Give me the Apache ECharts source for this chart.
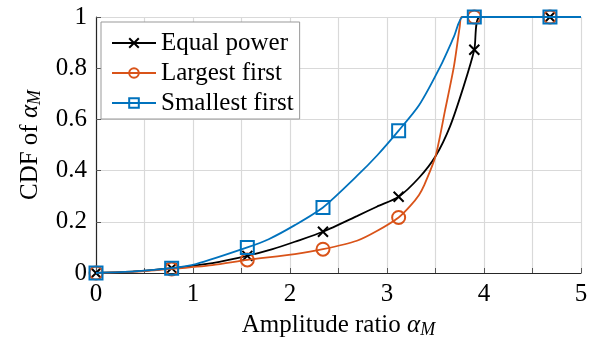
<!DOCTYPE html>
<html><head><meta charset="utf-8">
<script src="https://cdn.jsdelivr.net/npm/echarts@6/dist/echarts.min.js"></script>
<style>html,body{margin:0;padding:0;background:#fff}#c{width:599px;height:344px}</style>
</head><body><div id="c"></div>
<script>
const seriesNames = ['Equal power', 'Largest first', 'Smallest first'];
const markerX = [0, 0.78, 1.56, 2.34, 3.12, 3.90, 4.68];
const eqX = [0, 0.4, 0.78, 1.2, 1.56, 1.82, 2.05, 2.34, 2.69, 2.9, 3.12, 3.33, 3.5, 3.65, 3.79, 3.9, 3.96, 4.68, 5];
const eqY = [0, 0.006, 0.019, 0.039, 0.067, 0.093, 0.122, 0.161, 0.222, 0.26, 0.298, 0.372, 0.456, 0.573, 0.729, 0.872, 1.0, 1.0, 1.0];
const lfX = [0, 0.4, 0.78, 1.2, 1.56, 2.05, 2.34, 2.69, 2.9, 3.12, 3.24, 3.33, 3.38, 3.5, 3.6, 3.69, 3.75, 3.77, 3.9, 4.68, 5];
const lfY = [0, 0.005, 0.016, 0.031, 0.051, 0.074, 0.093, 0.126, 0.165, 0.217, 0.262, 0.305, 0.34, 0.456, 0.638, 0.807, 0.962, 1.0, 1.0, 1.0, 1.0];
const sfX = [0, 0.4, 0.78, 1.03, 1.56, 1.78, 2.05, 2.34, 2.69, 2.9, 3.12, 3.33, 3.55, 3.69, 3.78, 3.9, 4.68, 5];
const sfY = [0, 0.006, 0.019, 0.035, 0.1, 0.132, 0.187, 0.256, 0.379, 0.46, 0.556, 0.655, 0.807, 0.923, 1.0, 1.0, 1.0, 1.0];
const yTicks = [0, 0.2, 0.4, 0.6, 0.8, 1];
const xTickLabels = [0, 1, 2, 3, 4, 5];

const FONT = 'Liberation Serif';
const FS = 25;
const crossPath = 'path://M0,0L10,10M10,0L0,10';

function build(xs, ys) {
  return xs.map((x, i) => {
    const isM = markerX.some(m => Math.abs(m - x) < 1e-6);
    return isM ? { value: [x, ys[i]] } : { value: [x, ys[i]], symbol: 'none' };
  });
}

const colors = ['#000000', '#D95319', '#0072BD'];
const syms = [crossPath, 'circle', 'rect'];
const symSizes = [10, 13, 13];
const datas = [build(eqX, eqY), build(lfX, lfY), build(sfX, sfY)];
const richName = {
  i: { fontFamily: FONT, fontStyle: 'italic', fontSize: FS, color: '#000' },
  s: { fontFamily: FONT, fontStyle: 'italic', fontSize: 18, color: '#000', padding: [10, 0, 0, 0] }
};

const chart = echarts.init(document.getElementById('c'), null, { renderer: 'canvas' });
chart.setOption({
  animation: false,
  backgroundColor: '#fff',
  grid: { left: 96, right: 18, top: 17, bottom: 70, containLabel: false },
  legend: {
    data: seriesNames,
    orient: 'vertical',
    left: 101, top: 22,
    backgroundColor: '#fff',
    borderColor: '#999',
    borderWidth: 1,
    borderRadius: 0,
    padding: [8, 6, 3, 10],
    itemWidth: 44, itemHeight: 12, itemGap: 4,
    textStyle: { fontFamily: FONT, fontSize: FS, color: '#000', lineHeight: 26 }
  },
  xAxis: {
    type: 'value', min: 0, max: 5, interval: 0.5,
    name: 'Amplitude ratio {i|α}{s|M}',
    nameLocation: 'middle', nameGap: 38,
    nameTextStyle: { fontFamily: FONT, fontSize: FS, color: '#000', rich: richName },
    axisLine: { show: true, lineStyle: { color: '#262626', width: 1.2 } },
    axisTick: { show: true, inside: true, length: 5, lineStyle: { color: '#555' } },
    axisLabel: { fontFamily: FONT, fontSize: FS, color: '#000', margin: 9,
      formatter: v => (xTickLabels.indexOf(v) >= 0 ? String(v) : '') },
    splitLine: { show: true, lineStyle: { color: '#d9d9d9', width: 1.2 } }
  },
  yAxis: {
    type: 'value', min: 0, max: 1, interval: 0.2,
    name: 'CDF of {i|α}{s|M}',
    nameLocation: 'middle', nameGap: 52, nameRotate: 90,
    nameTextStyle: { fontFamily: FONT, fontSize: FS, color: '#000', rich: richName },
    axisLine: { show: true, lineStyle: { color: '#262626', width: 1.2 } },
    axisTick: { show: true, inside: true, length: 5, lineStyle: { color: '#555' } },
    axisLabel: { fontFamily: FONT, fontSize: FS, color: '#000', margin: 9,
      formatter: v => (yTicks.some(t => Math.abs(t - v) < 1e-9) ? String(+v.toFixed(1)) : '') },
    splitLine: { show: true, lineStyle: { color: '#d9d9d9', width: 1.2 } }
  },
  series: seriesNames.map((n, k) => ({
    name: n, type: 'line',
    data: datas[k],
    smooth: 0.25,
    symbol: syms[k], symbolSize: symSizes[k],
    showSymbol: true, showAllSymbol: true,
    lineStyle: { color: colors[k], width: 1.8 },
    itemStyle: { color: k === 0 ? colors[k] : '#ffffff00', borderColor: colors[k], borderWidth: 2 },
    emphasis: { disabled: true },
    z: 2 + k
  }))
});
</script></body></html>
